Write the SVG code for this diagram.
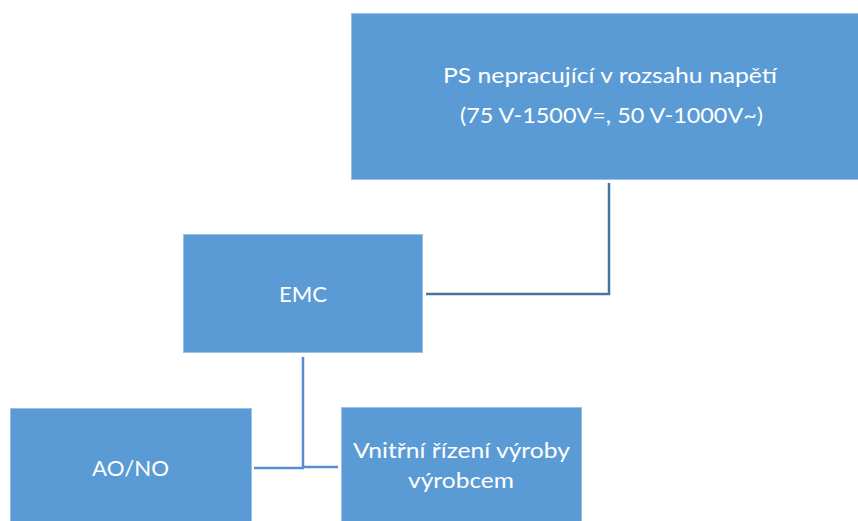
<svg xmlns="http://www.w3.org/2000/svg" width="858" height="521" viewBox="0 0 858 521">
  <style>
    .box { fill: #5B9BD5; stroke: #9DC0E6; stroke-width: 1; }
    .lbl { font-family: "Lato", "Noto Sans", "Liberation Sans", sans-serif; font-size: 22px; fill: #FFFFFF; text-anchor: middle; }
    .c1 { fill: none; stroke: #45769F; stroke-width: 2.5; }
    .c2 { fill: none; stroke: #558ECB; stroke-width: 2.5; }
  </style>
  <rect x="0" y="0" width="858" height="521" fill="#FFFFFF"/>
  <g id="connectors">
    <polyline class="c1" points="609,183 609,294 426,294"/>
    <line class="c2" x1="303" y1="357" x2="303" y2="468"/>
    <line class="c2" x1="254" y1="468" x2="304" y2="468"/>
    <line class="c2" x1="302" y1="467" x2="338" y2="467"/>
  </g>
  <g id="node-ps">
    <rect class="box" x="351.5" y="13.5" width="510" height="166"/>
    <text class="lbl" x="610" y="83" textLength="334" lengthAdjust="spacingAndGlyphs">PS nepracující v rozsahu napětí</text>
    <text class="lbl" x="611.5" y="123" textLength="303" lengthAdjust="spacingAndGlyphs">(75 V-1500V=, 50 V-1000V~)</text>
  </g>
  <g id="node-emc">
    <rect class="box" x="183.5" y="234.5" width="239" height="118"/>
    <text class="lbl" x="303" y="302" textLength="48" lengthAdjust="spacingAndGlyphs">EMC</text>
  </g>
  <g id="node-aono">
    <rect class="box" x="10.5" y="408.5" width="241" height="120"/>
    <text class="lbl" x="130.5" y="476" textLength="77" lengthAdjust="spacingAndGlyphs">AO/NO</text>
  </g>
  <g id="node-vnitrni">
    <rect class="box" x="341.5" y="407.5" width="240" height="120"/>
    <text class="lbl" x="461.5" y="458" textLength="217" lengthAdjust="spacingAndGlyphs">Vnitřní řízení výroby</text>
    <text class="lbl" x="461" y="488" textLength="106" lengthAdjust="spacingAndGlyphs">výrobcem</text>
  </g>
</svg>
